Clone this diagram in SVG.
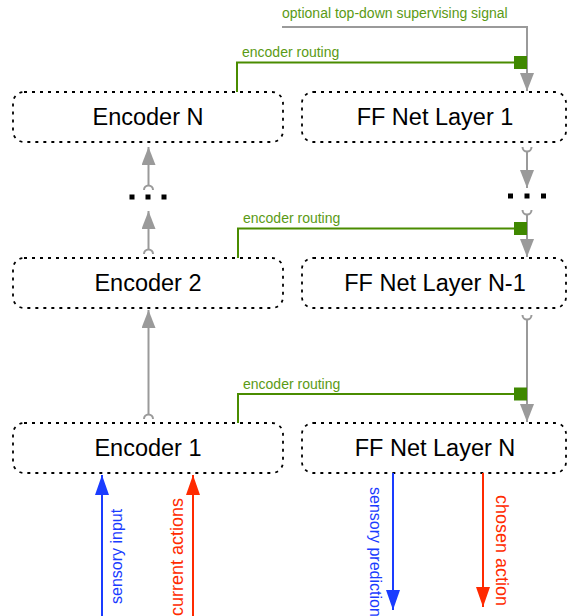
<svg xmlns="http://www.w3.org/2000/svg" width="567" height="616" viewBox="0 0 567 616">
<style>
.box{fill:#fff;stroke:#000;stroke-width:1.8;stroke-dasharray:3 5}
.lbl{font-family:"Liberation Sans",Arial,sans-serif;font-size:23.5px;fill:#000;text-anchor:middle}
.g{font-family:"Liberation Sans",Arial,sans-serif;font-size:14px;fill:#5a9a14}
.gl{fill:none;stroke:#4a8c00;stroke-width:2}
.gray{fill:none;stroke:#9a9a9a;stroke-width:2}
.sq{fill:#3f8800}
.dot{fill:#000}
.rt{font-family:"Liberation Sans",Arial,sans-serif}
</style>
<defs>
<marker id="ag" markerUnits="userSpaceOnUse" markerWidth="18" markerHeight="14" refX="18" refY="7" orient="auto" viewBox="0 0 18 14"><path d="M0,0 L18,7 L0,14 Z" fill="#9a9a9a"/></marker>
<marker id="ab" markerUnits="userSpaceOnUse" markerWidth="20" markerHeight="14" refX="20" refY="7" orient="auto" viewBox="0 0 20 14"><path d="M0,0 L20,7 L0,14 Z" fill="#1a3cff"/></marker>
<marker id="ar" markerUnits="userSpaceOnUse" markerWidth="20" markerHeight="14" refX="20" refY="7" orient="auto" viewBox="0 0 20 14"><path d="M0,0 L20,7 L0,14 Z" fill="#ff2a00"/></marker>
</defs>
<g id="encN"><rect class="box" x="13" y="92" width="270" height="50" rx="11"/><text class="lbl" x="148" y="125">Encoder N</text></g>
<g id="ff1"><rect class="box" x="302" y="92" width="264" height="50" rx="11"/><text class="lbl" x="435" y="125">FF Net Layer 1</text></g>
<g id="enc2"><rect class="box" x="13" y="258" width="270" height="50" rx="11"/><text class="lbl" x="148" y="291">Encoder 2</text></g>
<g id="ffN1"><rect class="box" x="302" y="258" width="264" height="50" rx="11"/><text class="lbl" x="435" y="291">FF Net Layer N-1</text></g>
<g id="enc1"><rect class="box" x="13" y="423" width="270" height="50" rx="11"/><text class="lbl" x="148" y="456">Encoder 1</text></g>
<g id="ffN"><rect class="box" x="302" y="423" width="264" height="50" rx="11"/><text class="lbl" x="435" y="456">FF Net Layer N</text></g>
<g id="dotsL"><rect class="dot" x="129.5" y="194.5" width="5" height="5"/><rect class="dot" x="145.5" y="194.5" width="5" height="5"/><rect class="dot" x="161.5" y="194.5" width="5" height="5"/></g>
<g id="dotsR"><rect class="dot" x="508" y="193.5" width="5" height="5"/><rect class="dot" x="524.5" y="193.5" width="5" height="5"/><rect class="dot" x="541" y="193.5" width="5" height="5"/></g>
<g id="connectors">
<path class="gray" d="M144,190 A4.5,4.5 0 0 1 153,190"/>
<path class="gray" d="M148.5,185.5 L148.5,147" marker-end="url(#ag)"/>
<path class="gray" d="M144,254 A4.5,4.5 0 0 1 153,254"/>
<path class="gray" d="M148.5,249.5 L148.5,211" marker-end="url(#ag)"/>
<path class="gray" d="M144,419 A4.5,4.5 0 0 1 153,419"/>
<path class="gray" d="M148.5,414.5 L148.5,310" marker-end="url(#ag)"/>
<path class="gray" d="M522.5,147 A4.5,4.5 0 0 0 531.5,147"/>
<path class="gray" d="M527,151.5 L527,188" marker-end="url(#ag)"/>
<path class="gray" d="M522.5,210 A4.5,4.5 0 0 0 531.5,210"/>
<path class="gray" d="M527,214.5 L527,257" marker-end="url(#ag)"/>
<path class="gray" d="M522.5,315 A4.5,4.5 0 0 0 531.5,315"/>
<path class="gray" d="M527,319.5 L527,422" marker-end="url(#ag)"/>
<path class="gray" d="M282,27 L527,27 L527,91" marker-end="url(#ag)"/>
<text class="g" x="282" y="18">optional top-down supervising signal</text>
<path class="gl" d="M237,92 L237,62.5 L514,62.5"/>
<rect class="sq" x="514" y="56" width="13" height="13"/>
<text class="g" x="242" y="57">encoder routing</text>
<path class="gl" d="M238,258 L238,228.5 L514,228.5"/>
<rect class="sq" x="514" y="222" width="13" height="13"/>
<text class="g" x="243" y="223">encoder routing</text>
<path class="gl" d="M238,423 L238,394 L514,394"/>
<rect class="sq" x="514" y="387.5" width="13" height="13"/>
<text class="g" x="243" y="389">encoder routing</text>
<path d="M102,616 L102,475" stroke="#1a3cff" stroke-width="2" fill="none" marker-end="url(#ab)"/>
<path d="M193,616 L193,475" stroke="#ff2a00" stroke-width="2" fill="none" marker-end="url(#ar)"/>
<path d="M393,473 L393,610" stroke="#1a3cff" stroke-width="2" fill="none" marker-end="url(#ab)"/>
<path d="M483,473 L483,607" stroke="#ff2a00" stroke-width="2" fill="none" marker-end="url(#ar)"/>
<text class="rt" transform="translate(122,604) rotate(-90)" font-size="16" fill="#1a3cff">sensory input</text>
<text class="rt" transform="translate(183,616) rotate(-90)" font-size="18" fill="#ff2a00">current actions</text>
<text class="rt" transform="translate(370,487) rotate(90)" font-size="16" fill="#1a3cff">sensory prediction</text>
<text class="rt" transform="translate(496,495) rotate(90)" font-size="18" fill="#ff2a00">chosen action</text>
</g>
</svg>
